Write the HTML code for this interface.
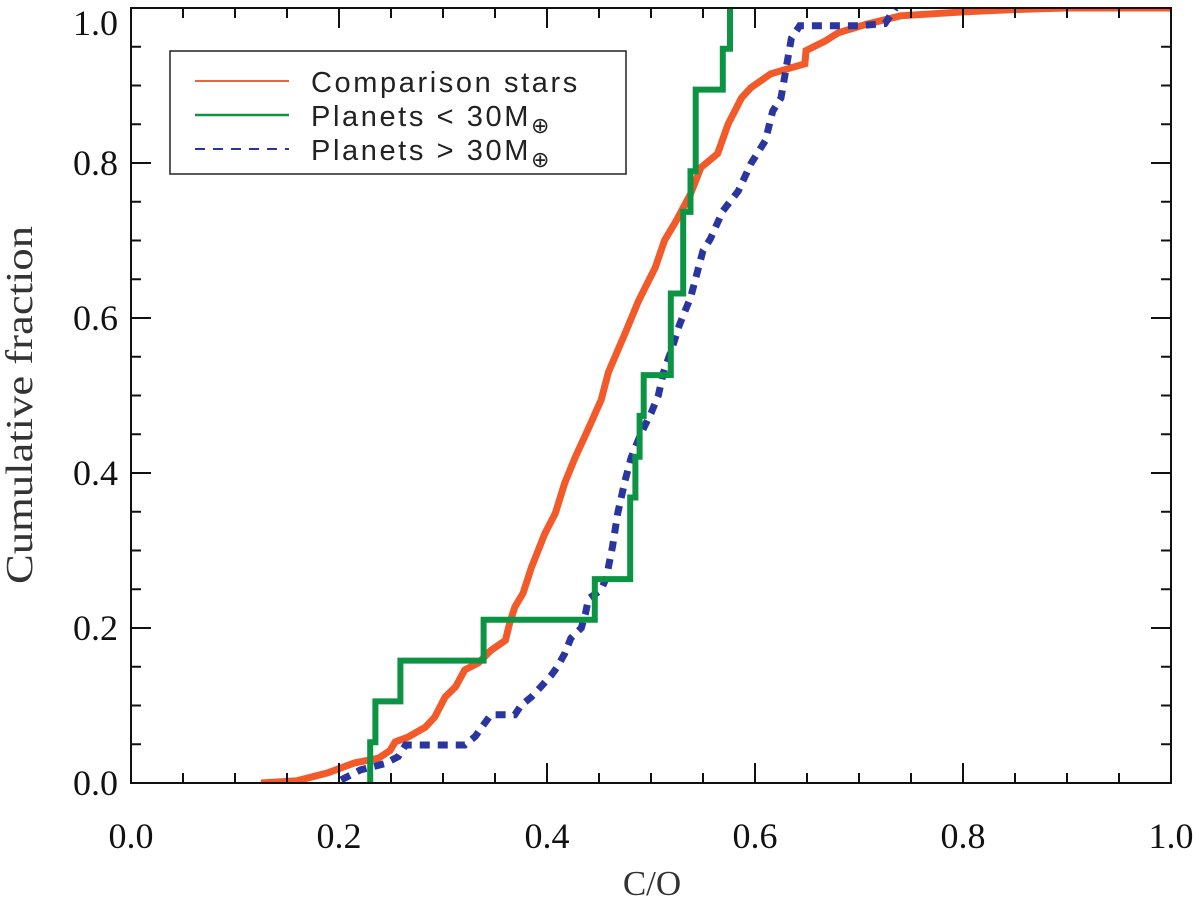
<!DOCTYPE html>
<html><head><meta charset="utf-8"><style>
html,body{margin:0;padding:0;background:#fff;}
svg{display:block;}
</style></head><body>
<svg id="chart" width="1200" height="910" xmlns="http://www.w3.org/2000/svg">
<g id="marks"></g>
<g id="axes"></g>
<text transform="translate(32,405) rotate(-90)" text-anchor="middle" font-family="Liberation Serif, serif" font-size="38" fill="#333" textLength="358" lengthAdjust="spacingAndGlyphs">Cumulative fraction</text>
<text x="652" y="895" text-anchor="middle" font-family="Liberation Serif, serif" font-size="35" fill="#333">C/O</text>
<g>
<rect x="170" y="51" width="456" height="123" fill="#fff" stroke="#222" stroke-width="1.5"/>
<line x1="195" y1="81" x2="289" y2="81" stroke="#f06040" stroke-width="2"/>
<text x="311" y="92" font-family="Liberation Sans, sans-serif" font-size="29" fill="#222" letter-spacing="2.6">Comparison stars</text>
<line x1="195" y1="115" x2="289" y2="115" stroke="#0c9444" stroke-width="2.5"/>
<text x="311" y="126" font-family="Liberation Sans, sans-serif" font-size="29" fill="#222" letter-spacing="2.6">Planets &lt; 30M<tspan font-size="22" dy="7">⊕</tspan></text>
<line x1="195" y1="149" x2="289" y2="149" stroke="#2a35a0" stroke-width="2" stroke-dasharray="10 8"/>
<text x="311" y="160" font-family="Liberation Sans, sans-serif" font-size="29" fill="#222" letter-spacing="2.6">Planets &gt; 30M<tspan font-size="22" dy="7">⊕</tspan></text>
</g>
</svg>
<script>
const xTicks = [0.0, 0.2, 0.4, 0.6, 0.8, 1.0];
const yTicks = [0.0, 0.2, 0.4, 0.6, 0.8, 1.0];
const xTickLabels = ["0.0","0.2","0.4","0.6","0.8","1.0"];
const yTickLabels = ["0.0","0.2","0.4","0.6","0.8","1.0"];
// Planets < 30 M_earth: sorted C/O values (19 planets)
const smallPlanetCO = [0.230,0.235,0.259,0.339,0.446,0.480,0.480,0.485,0.489,0.493,0.519,0.519,0.531,0.531,0.538,0.543,0.543,0.569,0.576];
// Planets > 30 M_earth: cumulative curve (C/O, fraction)
const largeCO = [0.202,0.221,0.244,0.257,0.264,0.321,0.331,0.340,0.346,0.369,0.375,0.385,0.394,0.404,0.410,0.417,0.423,0.433,0.437,0.440,0.452,0.457,0.463,0.468,0.475,0.481,0.490,0.500,0.507,0.512,0.520,0.527,0.533,0.538,0.550,0.557,0.569,0.584,0.596,0.610,0.617,0.625,0.630,0.635,0.643,0.700,0.725,0.735];
const largeF  = [0.004,0.017,0.025,0.034,0.049,0.049,0.060,0.077,0.088,0.088,0.100,0.111,0.124,0.139,0.150,0.167,0.187,0.200,0.219,0.238,0.249,0.265,0.305,0.348,0.390,0.420,0.450,0.477,0.500,0.530,0.560,0.590,0.610,0.626,0.687,0.702,0.738,0.764,0.799,0.829,0.867,0.884,0.923,0.961,0.977,0.977,0.980,1.000];
// Comparison stars: cumulative curve (C/O, fraction)
const starCO = [0.125,0.160,0.189,0.215,0.238,0.249,0.254,0.266,0.283,0.292,0.302,0.312,0.321,0.334,0.346,0.360,0.364,0.369,0.377,0.385,0.398,0.408,0.417,0.427,0.439,0.452,0.459,0.475,0.488,0.504,0.513,0.524,0.538,0.548,0.564,0.574,0.587,0.596,0.615,0.635,0.648,0.649,0.667,0.680,0.707,0.740,0.800,0.850,0.900,1.000];
const starF  = [0.000,0.003,0.013,0.026,0.032,0.042,0.053,0.059,0.072,0.085,0.111,0.124,0.146,0.155,0.171,0.184,0.206,0.227,0.245,0.278,0.322,0.348,0.387,0.420,0.455,0.494,0.530,0.580,0.622,0.665,0.700,0.725,0.760,0.794,0.812,0.850,0.884,0.897,0.915,0.923,0.928,0.945,0.957,0.968,0.979,0.990,0.995,0.998,1.000,1.000];

const X0=131, X1=1171, Y0=783, Y1=8;
const sx = v => X0 + v*(X1-X0);
const sy = v => Y0 - v*(Y0-Y1);
const NS="http://www.w3.org/2000/svg";
const marks=document.getElementById('marks'), axes=document.getElementById('axes');
function mk(tag, attrs, parent){const e=document.createElementNS(NS,tag);for(const k in attrs)e.setAttribute(k,attrs[k]);parent.appendChild(e);return e;}

function stepPath(xs, fs, startF){
  let d = `M${sx(xs[0]).toFixed(1)},${sy(startF).toFixed(1)}`;
  for(let i=0;i<xs.length;i++){
    d += ` H${sx(xs[i]).toFixed(1)} V${sy(fs[i]).toFixed(1)}`;
  }
  return d;
}
function linePath(xs, fs){
  return xs.map((x,i)=>(i?'L':'M')+sx(x).toFixed(1)+','+sy(fs[i]).toFixed(1)).join(' ');
}
const defs=mk('defs',{},marks);
const cp=mk('clipPath',{id:'clip'},defs);
mk('rect',{x:X0,y:Y1,width:X1-X0,height:Y0-Y1},cp);
const g=mk('g',{'clip-path':'url(#clip)'},marks);

const star=mk('path',{d:linePath(starCO,starF),fill:'none',stroke:'#f25a2a','stroke-width':7,'stroke-linejoin':'miter'},g);



const large=mk('path',{d:linePath(largeCO,largeF),fill:'none',stroke:'#2a35a0','stroke-width':7,'stroke-dasharray':'10 8'},g);



const n=smallPlanetCO.length;
const smallF=smallPlanetCO.map((v,i)=>(i+1)/n);
const small=mk('path',{d:stepPath(smallPlanetCO,smallF,0)+` V${Y1-5}`,fill:'none',stroke:'#0c9444','stroke-width':6},g);



const fr=mk('rect',{x:X0,y:Y1,width:X1-X0,height:Y0-Y1,fill:'none',stroke:'#111','stroke-width':2},axes);


for(let i=0;i<=20;i++){
  const v=i/20, major=(i%4===0), L=major?20:10;
  const x=sx(v), y=sy(v);
  mk('line',{x1:x,y1:Y0,x2:x,y2:Y0-L,stroke:'#111','stroke-width':2},axes);
  mk('line',{x1:x,y1:Y1,x2:x,y2:Y1+L,stroke:'#111','stroke-width':2},axes);
  mk('line',{x1:X0,y1:y,x2:X0+L,y2:y,stroke:'#111','stroke-width':2},axes);
  mk('line',{x1:X1,y1:y,x2:X1-L,y2:y,stroke:'#111','stroke-width':2},axes);
}
xTicks.forEach((v,i)=>{
  const t=mk('text',{x:sx(v),y:848,'text-anchor':'middle','font-family':'Liberation Serif, serif','font-size':36,fill:'#111'},axes);
  t.textContent=xTickLabels[i];
  
  
});
yTicks.forEach((v,i)=>{
  const yy = Math.max(sy(v)+12, 35);
  const t=mk('text',{x:118,y:yy,'text-anchor':'end','font-family':'Liberation Serif, serif','font-size':36,fill:'#111'},axes);
  t.textContent=yTickLabels[i];
  
  
});
</script>
</body></html>
